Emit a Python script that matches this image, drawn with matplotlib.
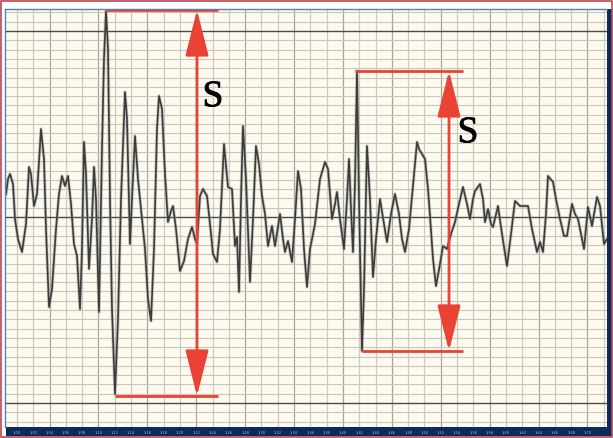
import numpy as np
import matplotlib
matplotlib.use("Agg")
import matplotlib.pyplot as plt
import matplotlib.patheffects as pe
from matplotlib.patches import Rectangle

# trace: sample index, amplitude in counts (baseline = 0)
t = [6, 8, 10, 13, 15, 18, 22, 26, 29, 31, 34, 37, 41, 44, 46, 49, 52, 56, 59, 62,
     65, 68, 71, 74, 77, 80, 82, 84, 86, 89, 92, 94, 96, 99, 102, 104, 106, 108, 110, 112,
     115, 118, 121, 125, 127, 130, 132, 135, 138, 141, 145, 148, 151, 154, 157, 159, 162, 165, 168, 171,
     173, 176, 180, 184, 188, 192, 195, 197, 200, 203, 207, 210, 213, 217, 220, 224, 228, 232, 235, 237,
     239, 241, 243, 246, 250, 253, 256, 259, 262, 265, 268, 272, 275, 280, 283, 285, 288, 292, 295, 298,
     301, 304, 307, 310, 315, 320, 325, 328, 332, 335, 337, 340, 344, 347, 349, 351, 353, 355, 357, 359,
     362, 364, 367, 370, 373, 376, 380, 384, 387, 391, 395, 399, 402, 405, 409, 412, 417, 419, 422, 425,
     428, 430, 433, 436, 440, 443, 447, 451, 455, 459, 463, 467, 470, 473, 475, 480, 483, 485, 488, 491,
     493, 498, 502, 507, 511, 515, 520, 525, 528, 532, 537, 540, 543, 546, 548, 553, 556, 560, 564, 567,
     572, 575, 578, 581, 584, 588, 592, 597, 600, 604, 607]
amp = [23, 38, 43, 33, -2, -22, -35, -7, 50, 43, 11, 23, 88, 58, -12, -90, -72, -12, 23, 41,
       31, 41, 13, -27, -39, -92, -32, 75, 43, -52, -2, 50, 18, -95, 68, 158, 206, 168, 18, -92,
       -177, -102, 18, 125, 98, -27, 18, 81, 38, 8, -32, -82, -104, -32, 88, 121, 108, 43, -5, 6,
       11, -12, -54, -44, -22, -10, -22, -27, 21, 28, 21, -7, -37, -45, -12, 73, 30, 28, -29, -20,
       -75, 18, 91, 38, -65, -2, 71, 53, 21, 3, -29, -9, -29, 3, -22, -35, -24, -45, -2, 46,
       28, -32, -70, -32, -7, 38, 55, 48, -2, 13, 25, -2, -32, 18, 58, 8, -35, 35, 146, 18,
       -134, -72, 71, 18, -60, -22, 18, -7, -25, 3, 23, 3, -22, -35, -12, 21, 75, 68, 63, 58,
       28, 1, -42, -69, -47, -29, -32, -17, -5, 13, 30, 13, -2, 18, 26, 33, 18, -5, 8, -7,
       -10, 11, -17, -49, -17, 16, 11, 11, 11, -12, -35, -25, -35, 3, 41, 35, 18, -2, -19, -19,
       13, 3, -2, -17, -32, 10, -9, 20, 11, -27, -22]

# two amplitude readings marked "S":
# (peak t, peak amp, trough t, trough amp, arrow t, end of marker lines)
s1 = (106, 207, 115, -179, 197, 218)
s2 = (355, 146, 362, -134, 449, 463)
s_label = "S"

W, H = 613, 439
fig = plt.figure(figsize=(W / 100, H / 100), dpi=100)
fig.patch.set_facecolor("white")

ax = fig.add_axes([6 / W, 11 / H, 601 / W, 418 / H])
ax.set_facecolor("#fdfbf0")
ax.set_xlim(6, 607)
ax.set_ylim(-210, 208)

# chart paper grid
dx, dy = 16.3, 9.3
for i, gx in enumerate(np.arange(0.7 + dx, 607, dx)):
    c = "#a9a59b" if i % 3 == 2 else "#cfcbc0"
    ax.axvline(gx, color=c, lw=0.9, zorder=1)
for k in range(-22, 23):
    if k in (0, 20, -20):
        ax.axhline(k * dy, color="#4a4a4a", lw=1.0, zorder=2)
    else:
        ax.axhline(k * dy, color="#c9c5ba", lw=0.8, zorder=1)

ax.plot(t, amp, color="#9a9a9a", lw=2.4, alpha=0.5, zorder=3, solid_joinstyle="round")
ax.plot(t, amp, color="#3c3c3c", lw=1.2, zorder=4, solid_joinstyle="round")

red = "#ea4234"
for pt, pa, tt, ta, at, end in (s1, s2):
    ax.plot([pt, end], [pa, pa], color=red, lw=2, zorder=5, solid_capstyle="butt")
    ax.plot([tt, end], [ta, ta], color=red, lw=2, zorder=5, solid_capstyle="butt")
    for tip in (pa, ta):
        ax.annotate("", xy=(at, tip), xytext=(at, (pa + ta) / 2), zorder=5,
                    arrowprops=dict(arrowstyle="-|>,head_length=0.75,head_width=0.19",
                                    color=red, lw=2, mutation_scale=38,
                                    shrinkA=0, shrinkB=0))

for x, y in ((s1[4] + 16, 120), (s2[4] + 19, 84)):
    ax.text(x, y, s_label, fontsize=27, family="Liberation Serif",
            ha="center", va="center", color="black", zorder=6,
            path_effects=[pe.withStroke(linewidth=0.6, foreground="black")])

ax.set_xticks([])
ax.set_yticks([])
for sp in ax.spines.values():
    sp.set_visible(False)

# navy strips (bottom time bar, right side bar)
navy = "#0c2a5c"
bar = fig.add_axes([6 / W, 2 / H, 601 / W, 9 / H])
bar.set_facecolor(navy)
bar.set_xlim(6, 607)
bar.set_ylim(0, 1)
bar.set_xticks([])
bar.set_yticks([])
for sp in bar.spines.values():
    sp.set_visible(False)
for i, gx in enumerate(np.arange(0.7 + dx, 600, dx)):
    bar.text(gx, 0.45, "1:%02d" % (i * 2), fontsize=2.6, color="#9fb3d6",
             ha="center", va="center")

side = fig.add_axes([607 / W, 2 / H, 5 / W, 427 / H])
side.set_facecolor(navy)
side.set_xticks([])
side.set_yticks([])
for sp in side.spines.values():
    sp.set_visible(False)

# outer frame
fig.add_artist(Rectangle((1 / W, 1 / H), 611 / W, 436 / H, transform=fig.transFigure,
                         fill=False, edgecolor="#b8474f", lw=1.2))
fig.add_artist(plt.Line2D([5 / W, 5 / W], [11 / H, 429 / H], transform=fig.transFigure,
                          color="#5a7fb5", lw=1.0))
fig.add_artist(plt.Line2D([5 / W, 607 / W], [429 / H, 429 / H], transform=fig.transFigure,
                          color="#5a7fb5", lw=1.0))

fig.savefig("out.png", dpi=100)
